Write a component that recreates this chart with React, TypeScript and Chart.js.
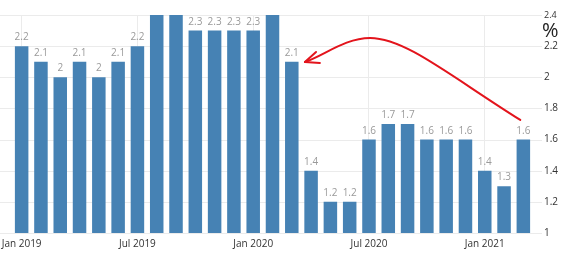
import React, { useEffect, useRef } from 'react';
import { Chart, registerables } from 'chart.js';

Chart.register(...registerables);

const months = [
  'Jan 2019', 'Feb 2019', 'Mar 2019', 'Apr 2019', 'May 2019', 'Jun 2019',
  'Jul 2019', 'Aug 2019', 'Sep 2019', 'Oct 2019', 'Nov 2019', 'Dec 2019',
  'Jan 2020', 'Feb 2020', 'Mar 2020', 'Apr 2020', 'May 2020', 'Jun 2020',
  'Jul 2020', 'Aug 2020', 'Sep 2020', 'Oct 2020', 'Nov 2020', 'Dec 2020',
  'Jan 2021', 'Feb 2021', 'Mar 2021',
];

const inflation = [
  2.2, 2.1, 2.0, 2.1, 2.0, 2.1,
  2.2, 2.4, 2.4, 2.3, 2.3, 2.3,
  2.3, 2.4, 2.1, 1.4, 1.2, 1.2,
  1.6, 1.7, 1.7, 1.6, 1.6, 1.6,
  1.4, 1.3, 1.6,
];

const yMin = 1;
const yMax = 2.4;
const yStep = 0.2;
const unitLabel = '%';

// annotation arrow, in data coordinates (category index, value): two cubic segments
const arrowSegA = [
  { x: 25.84, y: 1.726 },
  { x: 22.21, y: 2.008 },
  { x: 19.87, y: 2.252 },
  { x: 18.06, y: 2.252 },
];
const arrowSegB = [
  { x: 18.06, y: 2.252 },
  { x: 16.76, y: 2.252 },
  { x: 15.72, y: 2.143 },
  { x: 14.68, y: 2.098 },
];

const FONT = '"Open Sans", "DejaVu Sans", sans-serif';
const BAR = '#4682b4';

const overlay = {
  id: 'overlay',
  beforeDatasetsDraw(chart: any) {
    const { ctx, chartArea, scales } = chart;
    const y = scales.y;
    ctx.save();
    ctx.strokeStyle = '#ebebeb';
    ctx.lineWidth = 1;
    y.ticks.forEach((t: any) => {
      const py = Math.round(y.getPixelForValue(t.value)) + 0.5;
      ctx.beginPath();
      ctx.moveTo(0, py);
      ctx.lineTo(chartArea.right + 9, py);
      ctx.stroke();
    });
    ctx.restore();
  },
  afterDatasetsDraw(chart: any) {
    const { ctx, chartArea, scales } = chart;
    const x = scales.x;
    const y = scales.y;
    const meta = chart.getDatasetMeta(0);
    ctx.save();
    ctx.font = `10px ${FONT}`;
    ctx.textAlign = 'center';
    ctx.textBaseline = 'alphabetic';
    ctx.fillStyle = '#9a9a9a';
    meta.data.forEach((bar: any, i: number) => {
      const ty = bar.y - 6;
      if (ty - 8 < chartArea.top) return;
      ctx.fillText(String(inflation[i]), bar.x, ty);
    });

    // unit label
    ctx.font = `20px ${FONT}`;
    ctx.fillStyle = '#222';
    ctx.textAlign = 'left';
    ctx.textBaseline = 'middle';
    ctx.fillText(unitLabel, chartArea.right + 9, y.getPixelForValue(2.3) + 1);

    // arrow
    const toPx = (p: { x: number; y: number }) => ({ x: x.getPixelForValue(p.x), y: y.getPixelForValue(p.y) });
    const a = arrowSegA.map(toPx);
    const b = arrowSegB.map(toPx);
    ctx.strokeStyle = '#e3141c';
    ctx.lineWidth = 2;
    ctx.lineCap = 'round';
    ctx.lineJoin = 'round';
    ctx.beginPath();
    ctx.moveTo(a[0].x, a[0].y);
    ctx.bezierCurveTo(a[1].x, a[1].y, a[2].x, a[2].y, a[3].x, a[3].y);
    ctx.bezierCurveTo(b[1].x, b[1].y, b[2].x, b[2].y, b[3].x, b[3].y);
    ctx.stroke();
    const tip = b[3];
    const back = Math.atan2(b[2].y - tip.y, b[2].x - tip.x);
    const len = 15;
    const spread = 0.4;
    ctx.beginPath();
    ctx.moveTo(tip.x + len * Math.cos(back - spread), tip.y + len * Math.sin(back - spread));
    ctx.lineTo(tip.x, tip.y);
    ctx.lineTo(tip.x + len * Math.cos(back + spread), tip.y + len * Math.sin(back + spread));
    ctx.stroke();
    ctx.restore();
  },
};

export default function App() {
  const ref = useRef<HTMLCanvasElement | null>(null);
  useEffect(() => {
    if (!ref.current) return;
    const chart = new Chart(ref.current, {
      type: 'bar',
      data: {
        labels: months,
        datasets: [
          {
            data: inflation,
            backgroundColor: BAR,
            borderWidth: 0,
            barPercentage: 0.7,
            categoryPercentage: 1,
          },
        ],
      },
      options: {
        responsive: false,
        animation: false,
        devicePixelRatio: 1,
        layout: { padding: { left: 12, top: 15, right: 0, bottom: 0 } },
        plugins: { legend: { display: false }, tooltip: { enabled: false } },
        scales: {
          x: {
            offset: true,
            grid: {
              offset: false,
              drawTicks: false,
              color: (c: any) => (c.index % 6 === 0 ? '#ebebeb' : 'rgba(0,0,0,0)'),
            },
            border: { display: false },
            ticks: {
              autoSkip: false,
              maxRotation: 0,
              minRotation: 0,
              padding: 5,
              color: '#333',
              font: { family: FONT, size: 10 },
              callback: (_v: any, i: number) => (i % 6 === 0 ? months[i] : ''),
            },
            afterFit: (s: any) => {
              s.height = 20;
              s.paddingLeft = 0;
              s.paddingRight = 0;
            },
          },
          y: {
            position: 'right',
            min: yMin,
            max: yMax,
            grid: { display: false, drawTicks: false },
            border: { display: false },
            ticks: {
              stepSize: yStep,
              padding: 11,
              color: '#333',
              font: (c: any) => ({ family: FONT, size: c.tick && c.tick.value === yMax ? 9 : 10 }),
              callback: (v: any) => String(Math.round(Number(v) * 10) / 10),
            },
            afterFit: (s: any) => {
              s.width = 33;
              s.paddingTop = 0;
              s.paddingBottom = 0;
            },
          },
        },
      },
      plugins: [overlay],
    } as any);
    return () => chart.destroy();
  }, []);
  return (
    <div style={{ position: 'fixed', left: 0, top: 0, width: 566, height: 253, background: '#fff' }}>
      <canvas ref={ref} width={566} height={253} style={{ display: 'block' }} />
    </div>
  );
}
